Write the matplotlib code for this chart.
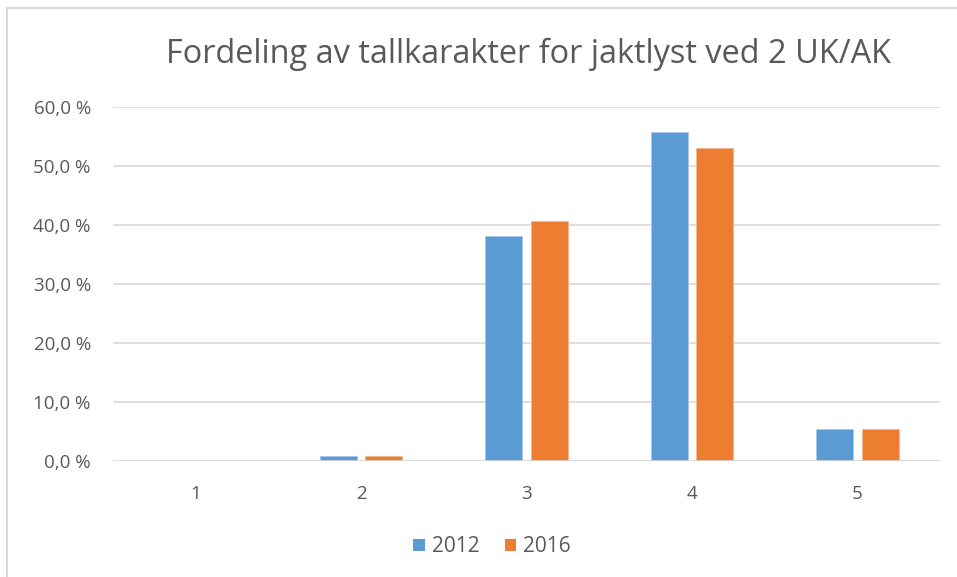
import numpy as np
from matplotlib import pyplot as plt
from matplotlib.lines import Line2D
from matplotlib.patches import Patch

categories = ["1", "2", "3", "4", "5"]
values_2012 = [0.0, 0.8, 38.1, 55.7, 5.4]
values_2016 = [0.0, 0.8, 40.7, 53.0, 5.4]
series_names = ["2012", "2016"]
y_ticks = [0, 10, 20, 30, 40, 50, 60]

blue = "#5B9BD5"
orange = "#ED7D31"
grid_color = "#D9D9D9"
text_color = "#595959"

plt.rcParams['font.family'] = ['Open Sans', 'DejaVu Sans']

fig = plt.figure(figsize=(9.57, 5.77), dpi=100)
ax = fig.add_axes([113 / 957, 116 / 577, 827 / 957, 354 / 577])

x = np.arange(len(categories))
width = 0.224
offset = 0.138
ax.bar(x - offset, values_2012, width, color=blue, edgecolor="#A9C8EA", linewidth=0.6, zorder=3)
ax.bar(x + offset, values_2016, width, color=orange, edgecolor="#F5B790", linewidth=0.6, zorder=3)

ax.set_xlim(-0.5, len(categories) - 0.5)
ax.set_ylim(0, 60)
ax.set_yticks(y_ticks)
ax.set_yticklabels([f"{v:.1f} %".replace(".", ",") for v in y_ticks])
ax.set_xticks(x)
ax.set_xticklabels(categories)
ax.grid(axis="y", color=grid_color, linewidth=1.2, zorder=0)
for s in ax.spines.values():
    s.set_visible(False)
ax.tick_params(length=0, labelsize=13.5, colors=text_color)
ax.tick_params(axis="y", pad=16)
ax.tick_params(axis="x", pad=17)
ax.axhline(0, color=grid_color, linewidth=1.2, zorder=4)

fig.text(528 / 957, 1 - 54 / 577, "Fordeling av tallkarakter for jaktlyst ved 2 UK/AK",
         ha="center", va="center", fontsize=23.4, color=text_color)

handles = [Patch(facecolor=blue), Patch(facecolor=orange)]
fig.legend(handles, series_names, loc="center", bbox_to_anchor=(492 / 957, 1 - 547 / 577),
           ncol=2, frameon=False, fontsize=15, labelcolor=text_color,
           handlelength=0.55, handleheight=0.55, handletextpad=0.35, columnspacing=1.2)

# chart frame (cut off at right and bottom)
fig.add_artist(Line2D([7 / 957, 1], [1 - 8 / 577, 1 - 8 / 577], color=grid_color, linewidth=1.5))
fig.add_artist(Line2D([7 / 957, 7 / 957], [0, 1 - 8 / 577], color=grid_color, linewidth=1.5))

fig.savefig("out.png", dpi=100)
